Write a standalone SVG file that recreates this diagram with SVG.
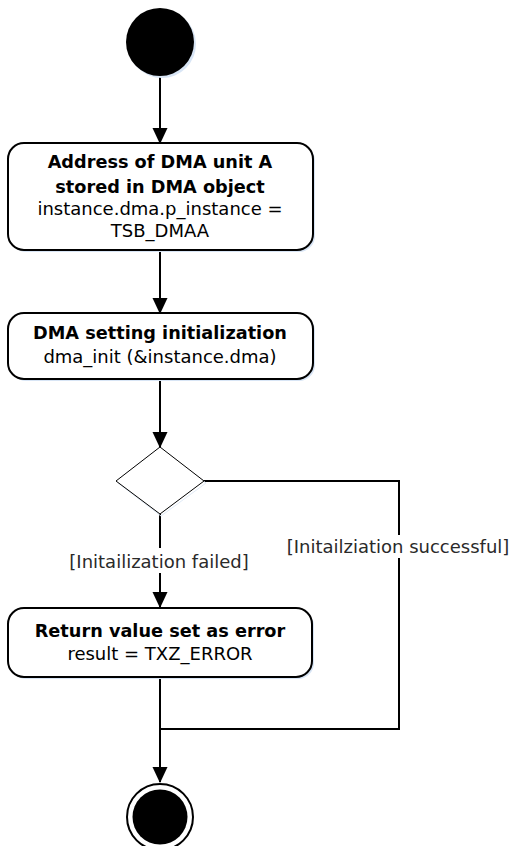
<svg xmlns="http://www.w3.org/2000/svg" width="515" height="846" viewBox="0 0 515 846">
<style>
.t{font-family:"DejaVu Sans",Verdana,sans-serif;font-size:18px;fill:#000;text-anchor:middle}
.b{font-weight:bold;font-size:17.7px}
.lb{fill:#2a2a2a}
.box{fill:#fff;stroke:#000;stroke-width:2}
.sh{fill:#d8e5f5}
.ln{fill:none;stroke:#000;stroke-width:2}
</style>
<defs>
<marker id="ah" markerWidth="16" markerHeight="17" refX="16" refY="8" orient="auto" markerUnits="userSpaceOnUse" viewBox="0 0 17 16">
<path d="M0,0 L17,8 L0,16 Z" fill="#000"/>
</marker>
</defs>
<rect width="515" height="846" fill="#fff"/>
<g id="connectors">
<line class="ln" x1="160" y1="76" x2="160" y2="143" marker-end="url(#ah)"/>
<line class="ln" x1="160" y1="250" x2="160" y2="313" marker-end="url(#ah)"/>
<line class="ln" x1="160" y1="379" x2="160" y2="447" marker-end="url(#ah)"/>
<line class="ln" x1="160" y1="514" x2="160" y2="607" marker-end="url(#ah)"/>
<polyline class="ln" points="204,481 399,481 399,729 160,729"/>
<line class="ln" x1="160" y1="677" x2="160" y2="782" marker-end="url(#ah)"/>
<rect x="66" y="548" width="186" height="25" fill="#fff"/>
<text class="t lb" x="159" y="568">[Initailization failed]</text>
<rect x="284" y="535" width="228" height="23" fill="#fff"/>
<text class="t lb" x="398" y="553">[Initailziation successful]</text>
</g>
<g id="start">
<circle cx="162" cy="44" r="34" class="sh"/>
<circle cx="160" cy="42" r="34" fill="#000"/>
</g>
<g id="store">
<rect class="sh" x="10" y="145" width="305" height="107" rx="16"/>
<rect class="box" x="8" y="143" width="305" height="107" rx="16"/>
<text class="t b" x="160" y="168">Address of DMA unit A</text>
<text class="t b" x="160" y="193">stored in DMA object</text>
<text class="t" x="160" y="215">instance.dma.p_instance =</text>
<text class="t" x="160" y="237">TSB_DMAA</text>
</g>
<g id="init">
<rect class="sh" x="10" y="315" width="305" height="66" rx="16"/>
<rect class="box" x="8" y="313" width="305" height="66" rx="16"/>
<text class="t b" x="160" y="339">DMA setting initialization</text>
<text class="t" x="160" y="363">dma_init (&amp;instance.dma)</text>
</g>
<g id="decision">
<polygon points="161,449 206,483 161,516 118,483" fill="none" stroke="#e0eaf6" stroke-width="1"/>
<polygon points="160,447 204,481 160,514 116,481" fill="#fff" stroke="#000" stroke-width="1"/>
</g>
<g id="error">
<rect class="sh" x="10" y="610" width="304" height="69" rx="16"/>
<rect class="box" x="8" y="608" width="304" height="69" rx="16"/>
<text class="t b" x="160" y="637">Return value set as error</text>
<text class="t" x="160" y="660">result = TXZ_ERROR</text>
</g>
<g id="end">
<circle cx="160" cy="817" r="33" fill="#fff" stroke="#000" stroke-width="2"/>
<circle cx="160" cy="817" r="27.5" fill="#000"/>
</g>
</svg>
